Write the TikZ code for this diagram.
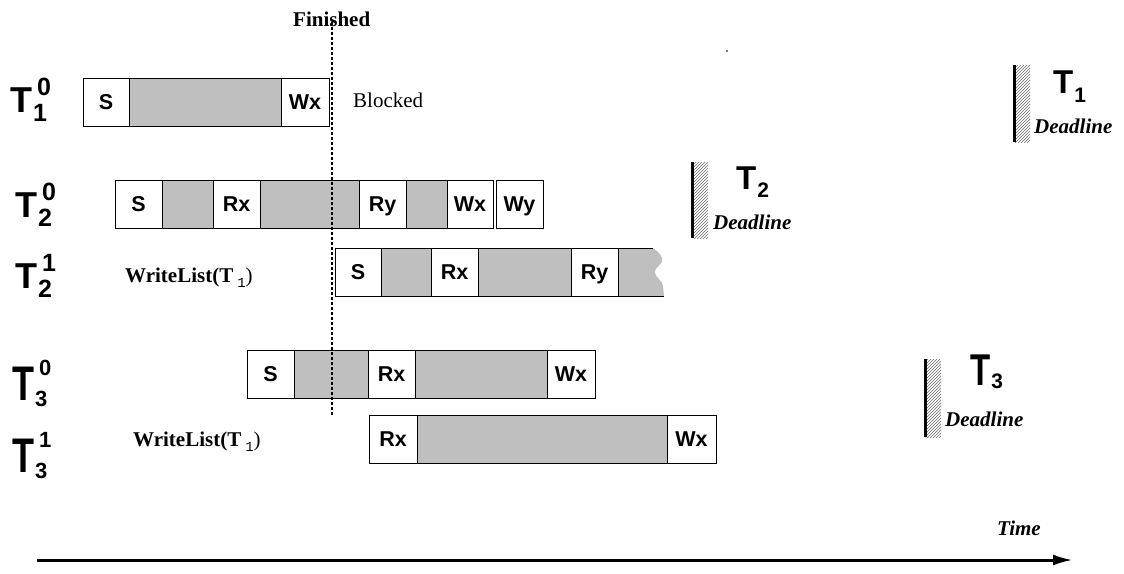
\documentclass[tikz,border=0pt]{standalone}
\usepackage{fontspec}
\setmainfont{Liberation Serif}
\newfontfamily\arial{Liberation Sans}
\newfontfamily\courier{Liberation Mono}
\usepackage{graphicx}
\usetikzlibrary{arrows.meta,patterns}
\definecolor{busygray}{RGB}{191,191,191}
\definecolor{hatchgray}{RGB}{105,105,105}
\newcommand{\digfont}[1]{\fontsize{#1}{#1}\selectfont}
% T with sub and sup: sub, sup, yscale, raise, drop, digit size
\newcommand{\tlab}[6]{\scalebox{1}[#3]{T}\rlap{\kern5pt\raisebox{#4}{\digfont{#6}#2}}\raisebox{-#5}{\kern1pt\digfont{#6}#1}}
% T with sub only: sub, yscale, drop
\newcommand{\dlab}[3]{\scalebox{1}[#2]{T}\raisebox{-#3}{\kern1pt\digfont{21}#1}}
\newcommand{\wlist}{{\bfseries WriteList(T}\kern4pt\raisebox{-5pt}{\courier\digfont{14}1})}

\begin{document}
\begin{tikzpicture}[x=1pt, y=-1pt,
  task/.style={draw, line width=1pt, fill=white, minimum height=48, inner sep=0pt,
    text height=15pt, text depth=0pt, font=\arial\bfseries\fontsize{21.5}{21.5}\selectfont},
  busy/.style={task, fill=busygray},
  txt/.style={anchor=base west, inner sep=0pt, font=\fontsize{21}{25}\selectfont},
  tname/.style={anchor=base west, inner sep=0pt, font=\arial\bfseries\fontsize{36}{36}\selectfont},
  dname/.style={anchor=base west, inner sep=0pt, font=\arial\bfseries\fontsize{33}{33}\selectfont},
  deadtxt/.style={txt, font=\fontsize{21}{25}\selectfont\bfseries\itshape},
  hatch/.style={pattern=north east lines, pattern color=hatchgray}]
\useasboundingbox (0,0) rectangle (1124,573);

% row labels
\node[tname] (lt10) at (10,112) {\tlab{1}{0}{1}{17pt}{9pt}{25}};
\node[tname] (lt20) at (15,217) {\tlab{2}{0}{1}{17pt}{9pt}{25}};
\node[tname] (lt21) at (15,288) {\tlab{2}{1}{1}{17pt}{9pt}{25}};
\node[tname] (lt30) at (12,400) {\tlab{3}{0}{1.35}{25pt}{6pt}{22}};
\node[tname] (lt31) at (12,472) {\tlab{3}{1}{1.35}{25pt}{6pt}{22}};

% T1^0
\node[task, minimum width=46] (a1s) at (106,102) {S};
\node[busy, minimum width=152] (a1b) at (205,102) {};
\node[task, minimum width=48] (a1w) at (305,102) {Wx};
\node[txt] (blocked) at (353,107) {Blocked};

% T2^0
\node[task, minimum width=47] (b0s) at (138.5,204) {S};
\node[busy, minimum width=51] (b0b1) at (187.5,204) {};
\node[task, minimum width=47] (b0rx) at (236.5,204) {Rx};
\node[busy, minimum width=99] (b0b2) at (309.5,204) {};
\node[task, minimum width=47] (b0ry) at (382.5,204) {Ry};
\node[busy, minimum width=41] (b0b3) at (426.5,204) {};
\node[task, minimum width=46] (b0wx) at (470,204) {Wx};
\node[task, minimum width=47] (b0wy) at (519.5,204) {Wy};

% T2^1
\node[txt] (wl2) at (125,282) {\wlist};
\fill[busygray] (618,248) -- (653,248) .. controls (659,252) and (664,258) .. (662,262)
  .. controls (660,266) and (654,268) .. (655,273) .. controls (656,278) and (663,281) .. (663,286)
  -- (664,296) -- (618,296) -- cycle;
\draw[line width=1pt] (618,248) -- (653,248) (618,296) -- (664,296);
\node[task, minimum width=46] (b1s) at (358,272) {S};
\node[busy, minimum width=50] (b1b1) at (406,272) {};
\node[task, minimum width=47] (b1rx) at (454.5,272) {Rx};
\node[busy, minimum width=93] (b1b2) at (524.5,272) {};
\node[task, minimum width=47] (b1ry) at (594.5,272) {Ry};

% T3^0
\node[task, minimum width=47] (c0s) at (270.5,374) {S};
\node[busy, minimum width=74] (c0b1) at (331,374) {};
\node[task, minimum width=47] (c0rx) at (391.5,374) {Rx};
\node[busy, minimum width=132] (c0b2) at (481,374) {};
\node[task, minimum width=48] (c0wx) at (571,374) {Wx};

% T3^1
\node[txt] (wl3) at (133,446) {\wlist};
\node[task, minimum width=48] (c1rx) at (393,439) {Rx};
\node[busy, minimum width=250] (c1b) at (542,439) {};
\node[task, minimum width=49] (c1wx) at (691.5,439) {Wx};

% finished line
\node[txt, font=\fontsize{21}{25}\selectfont\bfseries] (fin) at (293,26) {Finished};
\coordinate (fintop) at (332,22);
\coordinate (finbot) at (332,416);
\draw[line width=1.3pt, dash pattern=on 3pt off 2pt] (fintop) -- (finbot);

% deadlines
\fill[hatch] (1014,65) rectangle (1030,142);
\draw[line width=3pt] (1014,65) -- (1014,142);
\node[dname] (d1) at (1053,93) {\dlab{1}{1}{9pt}};
\node[deadtxt] (d1txt) at (1034,133) {Deadline};

\fill[hatch] (692,162) rectangle (708,238);
\draw[line width=3pt] (692,162) -- (692,238);
\node[dname] (d2) at (736,189) {\dlab{2}{1}{8pt}};
\node[deadtxt] (d2txt) at (713,229) {Deadline};

\fill[hatch] (925,359) rectangle (941,437);
\draw[line width=3pt] (925,359) -- (925,437);
\node[dname] (d3) at (970,385) {\dlab{3}{1.35}{3pt}};
\node[deadtxt] (d3txt) at (945,426) {Deadline};

\fill (727,51) circle (0.8);

% time axis
\node[deadtxt] (time) at (997,535) {Time};
\coordinate (t0) at (37,560);
\coordinate (t1) at (1073,560);
\draw[line width=3pt, -{Latex[length=20pt, width=11pt]}] (t0) -- (t1);
\end{tikzpicture}
\end{document}
